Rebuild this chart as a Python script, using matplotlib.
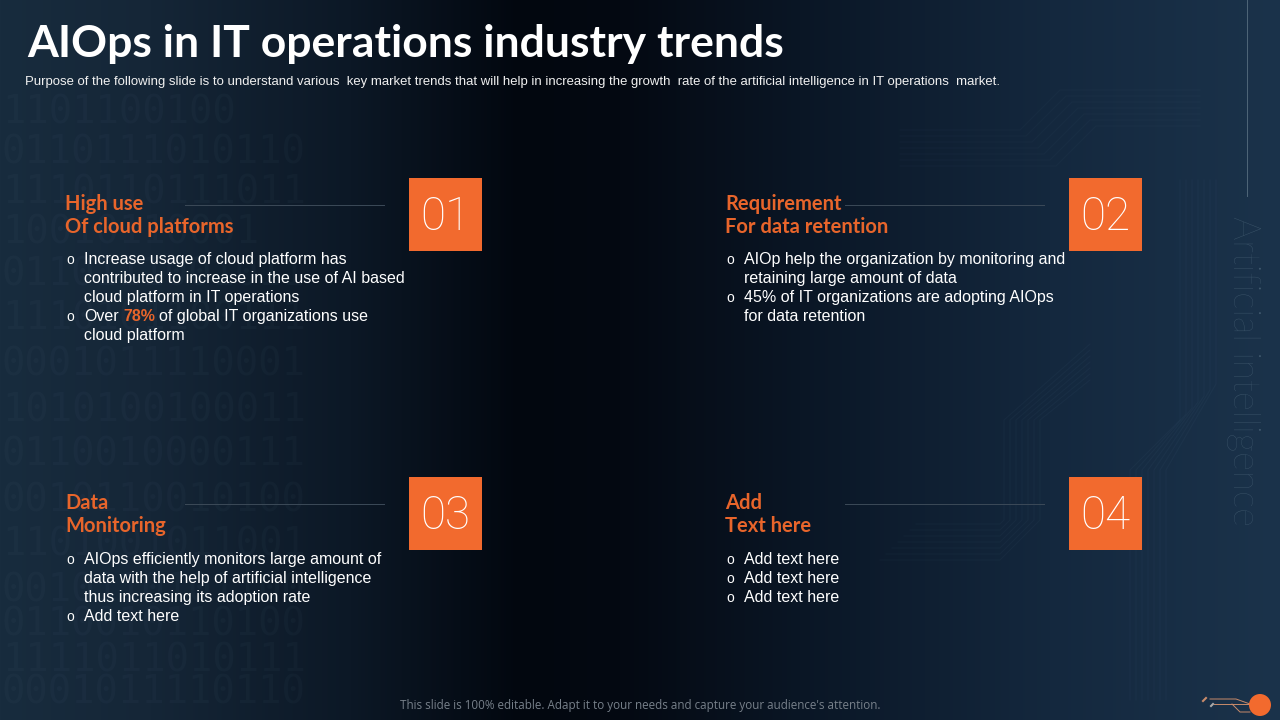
import numpy as np
import matplotlib
matplotlib.use('Agg')
import matplotlib.pyplot as plt
from matplotlib.patches import Rectangle, Circle

title = "AIOps in IT operations industry trends"
subtitle = ("Purpose of the following slide is to understand various  key market trends that will help in "
            "increasing the growth  rate of the artificial intelligence in IT operations  market.")
footer = "This slide is 100% editable. Adapt it to your needs and capture your audience's attention."
side_text = "Artificial intelligence"

numbers = ["01", "02", "03", "04"]
box_x = [409, 1069, 409, 1069]
box_y = [178, 178, 477, 477]
head_x = [65, 725, 65, 725]
heads = [("High use", "Of cloud platforms"),
         ("Requirement", "For data retention"),
         ("Data", "Monitoring"),
         ("Add", "Text here")]
rule_start = [185, 845, 185, 845]

# (is_bullet, text) per line
body_1 = [(True, "Increase usage of cloud platform has"),
          (False, "contributed to increase in the use of AI based"),
          (False, "cloud platform in IT operations"),
          (True, "Over"),
          (False, "cloud platform")]
body_2 = [(True, "AIOp help the organization by monitoring and"),
          (False, "retaining large amount of data"),
          (True, "45% of IT organizations are adopting AIOps"),
          (False, "for data retention")]
body_3 = [(True, "AIOps efficiently monitors large amount of"),
          (False, "data with the help of artificial intelligence"),
          (False, "thus increasing its adoption rate"),
          (True, "Add text here")]
body_4 = [(True, "Add text here"), (True, "Add text here"), (True, "Add text here")]
bodies = [body_1, body_2, body_3, body_4]
body_y0 = [264, 264, 564, 564]

binary_y = [112, 152, 192, 232, 275, 318, 365, 410, 455, 500, 545, 590, 625, 660, 692]
binary_rows = ["1101100100", "0110111010110", "1110110111011", "10010110001",
               "0110111001011", "1110101100111", "0001011110001", "1010100100011",
               "0110010000111", "0010110010100", "1101001011001", "0010110101100",
               "0110010110100", "1111011010111", "0001011110110"]

ORANGE = '#f26a2e'
HEAD = '#e8652b'
BODY_FONT = 'Liberation Sans'
HEAD_FONT = 'Lato'

fig = plt.figure(figsize=(12.8, 7.2), dpi=100)
ax = fig.add_axes([0, 0, 1, 1])
ax.set_xlim(0, 1280)
ax.set_ylim(720, 0)
ax.axis('off')

# background: dark band around x=540, blue towards the sides
stops_x = [0, 150, 350, 520, 620, 800, 1050, 1280]
stops_rgb = np.array([[24, 44, 62], [21, 38, 55], [12, 24, 38], [2, 7, 15],
                      [4, 9, 18], [10, 22, 37], [20, 40, 62], [27, 51, 75]]) / 255
xs = np.arange(1280)
grad = np.stack([np.interp(xs, stops_x, stops_rgb[:, i]) for i in range(3)], axis=-1)
ax.imshow(grad[np.newaxis, :, :], extent=[0, 1280, 720, 0], aspect='auto', zorder=0)

# faint binary digits on the left
for y, row in zip(binary_y, binary_rows):
    ax.text(2, y, row, color='#7fa3bb', alpha=0.04, fontsize=28, family='DejaVu Sans Mono',
            va='center', ha='left', zorder=1)

# faint circuit traces on the right
for off in range(0, 40, 6):
    ax.plot([880 + off, 1000, 1040 - off, 1040 - off, 1090], [560 - off, 560 - off, 520, 420, 380 - off],
            color='#6f97b5', alpha=0.05, lw=0.8, zorder=1)
    ax.plot([1130 + off, 1130 + off, 1180 + off, 1180 + off], [700, 470, 420 - off, 180],
            color='#6f97b5', alpha=0.05, lw=0.8, zorder=1)
    ax.plot([900, 1020 + off, 1060 + off, 1200], [130 + off, 130 + off, 90 + off, 90 + off],
            color='#6f97b5', alpha=0.04, lw=0.8, zorder=1)

ax.text(27, 44, title, color='white', fontsize=32, family=HEAD_FONT, weight='bold', va='center', ha='left', zorder=3)
ax.text(25, 82, subtitle, color='#f0f0f0', fontsize=9.44, family=BODY_FONT, va='center', ha='left', zorder=3)

for i in range(4):
    ax.add_patch(Rectangle((box_x[i], box_y[i]), 73, 73, color=ORANGE, lw=0, zorder=3))
    ax.text(box_x[i] + 36, box_y[i] + 39, numbers[i], color='white', fontsize=33, family='Roboto', weight='light',
            va='center', ha='center', zorder=4)
    ax.text(head_x[i], box_y[i] + 32, heads[i][0], color=HEAD, fontsize=14.5, family=HEAD_FONT, weight='bold',
            va='baseline', ha='left', zorder=3)
    ax.text(head_x[i], box_y[i] + 55, heads[i][1], color=HEAD, fontsize=14.5, family=HEAD_FONT, weight='bold',
            va='baseline', ha='left', zorder=3)
    ax.plot([rule_start[i], rule_start[i] + 199], [box_y[i] + 27, box_y[i] + 27], color='#3c4a58', lw=0.7, zorder=3)
    for j, (bullet, line) in enumerate(bodies[i]):
        y = body_y0[i] + j * 19
        if bullet:
            ax.text(head_x[i] + 5, y, "o", color='white', fontsize=10, family=BODY_FONT, va='baseline', ha='center', zorder=3)
        ax.text(head_x[i] + 19, y, line, color='white', fontsize=11.5, family=BODY_FONT, va='baseline', ha='left', zorder=3)

# the line with the orange figure
ax.text(123, 321, "78%", color=HEAD, fontsize=11.5, family=BODY_FONT, weight='bold', va='baseline', ha='left', zorder=3)
ax.text(159, 321, "of global IT organizations use", color='white', fontsize=11.5, family=BODY_FONT, va='baseline', ha='left', zorder=3)

# side label and rule
ax.plot([1247, 1247], [0, 196], color='#4f6678', lw=0.7, zorder=2)
ax.text(1243, 371, side_text, color='#3f586d', fontsize=26.5, family='Lato', weight='light', rotation=-90,
        va='center', ha='center', zorder=2)

ax.text(640, 706, footer, color='#77808a', fontsize=8.35, family='Open Sans', va='center', ha='center', zorder=3)

# footer circuit icon
ax.add_patch(Circle((1260, 705), 11, color=ORANGE, lw=0, zorder=4))
ax.plot([1210, 1236, 1250], [699, 699, 704], color='#c98b6b', lw=0.7, zorder=3)
ax.plot([1214, 1232, 1248], [704, 704, 704], color='#c98b6b', lw=0.7, zorder=3)
ax.plot([1232, 1240, 1250], [704, 712, 712], color='#c98b6b', lw=0.7, zorder=3)
ax.plot([1203, 1206], [701, 698], color='#c98b6b', lw=1.5, zorder=3)
ax.plot([1211, 1213], [706, 704], color='#a9a9a9', lw=1.5, zorder=3)

fig.savefig('out.png', dpi=100)
